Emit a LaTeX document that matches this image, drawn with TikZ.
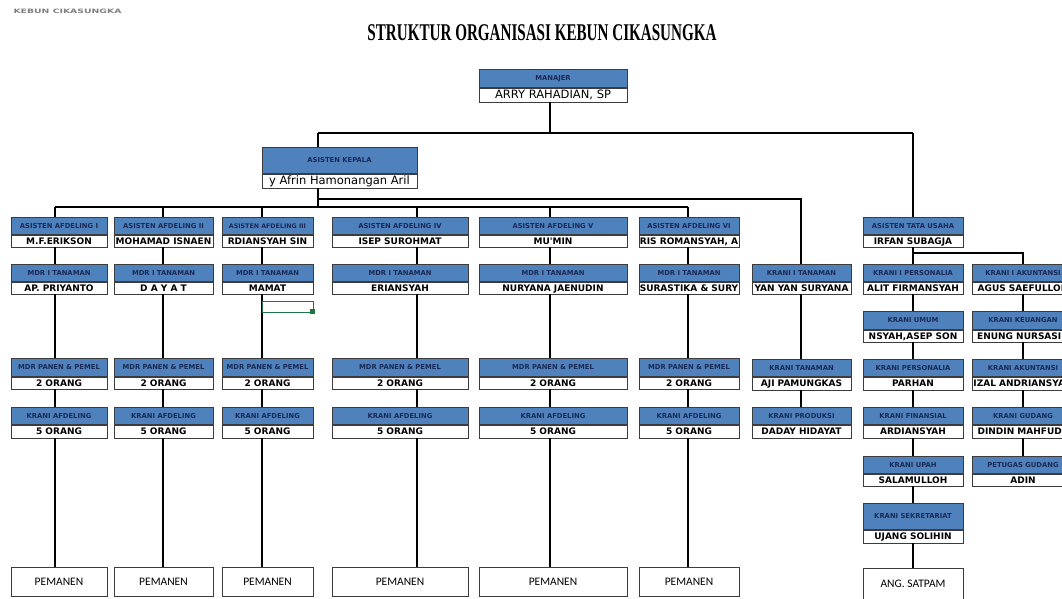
\documentclass[tikz,border=0pt]{standalone}
\usepackage{fontspec}
\newfontfamily\dejavu{DejaVu Sans}
\newfontfamily\carlito{Carlito}
\newfontfamily\judulfont{Liberation Serif}
\usetikzlibrary{calc}

\definecolor{biruexcel}{HTML}{4F81BD}
\definecolor{navy}{HTML}{1B2A55}
\definecolor{garis}{HTML}{3C3C3C}
\definecolor{hijauexcel}{HTML}{217346}

\tikzset{
  kepalakotak/.style={draw=garis, line width=0.7pt, fill=biruexcel, inner sep=0pt,
    text=navy, text height=4.8pt, text depth=0pt,
    font=\dejavu\bfseries\fontsize{6.8}{6.8}\selectfont},
  isikotak/.style={draw=garis, line width=0.7pt, fill=white, inner sep=0pt,
    text=black, text height=6.6pt, text depth=0.6pt,
    font=\dejavu\bfseries\fontsize{9}{9}\selectfont},
  isibesar/.style={isikotak, text height=8pt, text depth=2pt,
    font=\dejavu\fontsize{11.5}{11.5}\selectfont},
  kotakputih/.style={draw=garis, line width=0.7pt, fill=white, inner sep=0pt,
    font=\carlito\fontsize{11.5}{11.5}\selectfont},
  hubung/.style={line width=1.1pt, black},
}

% #2 nama, #3 x tengah, #4 lebar, #5 y atas, #6 tinggi kepala, #7 tinggi isi
\newcommand{\jabatan}[9][isikotak]{%
  \node[kepalakotak, minimum width=#4pt, minimum height=#6pt, anchor=north] (#2-h) at (#3,#5) {#8};
  \node[#1, minimum width=#4pt, minimum height=#7pt, anchor=north] (#2) at (#2-h.south) {#9};
}

\begin{document}
\begin{tikzpicture}[x=1pt, y=-1pt]
    \useasboundingbox (0,0) rectangle (1062,598);
    \fill[white] (0,0) rectangle (1062,598);
    \clip (0,0) rectangle (1062,598);

    % judul
    \node[text=gray, font=\dejavu\bfseries\fontsize{6}{6}\selectfont, anchor=west] (kecil) at (10,11)
      {\scalebox{1.55}[1]{KEBUN CIKASUNGKA}};
    \node[font=\judulfont\bfseries\fontsize{24}{24}\selectfont] (judul) at (542,33)
      {\scalebox{0.63}[1]{STRUKTUR ORGANISASI KEBUN CIKASUNGKA}};

    % garis kolom
    \coordinate (c1) at (55,0);
    \coordinate (c2) at (163,0);
    \coordinate (c3) at (262,0);
    \coordinate (c4) at (417,0);
    \coordinate (c5) at (550,0);
    \coordinate (c6) at (688,0);
    \coordinate (c7) at (801,0);
    \coordinate (c8) at (913,0);
    \coordinate (c9) at (1023,0);

    % pimpinan
    \jabatan[isibesar]{manajer}{553}{148}{69}{18}{14}{MANAJER}{ARRY RAHADIAN, SP}
    \jabatan[isibesar]{kepala}{339.5}{155}{147}{26}{14}{ASISTEN KEPALA}{y Afrin Hamonangan Aril}

    % asisten afdeling
    \jabatan{as1}{59}{96}{217}{17}{12}{ASISTEN AFDELING I}{M.F.ERIKSON}
    \jabatan{as2}{163.5}{99}{217}{17}{12}{ASISTEN AFDELING II}{MOHAMAD ISNAEN}
    \jabatan{as3}{267.5}{91}{217}{17}{12}{\fontsize{6.3}{6.3}\selectfont ASISTEN AFDELING III}{RDIANSYAH SIN}
    \jabatan{as4}{400}{136}{217}{17}{12}{ASISTEN AFDELING IV}{ISEP SUROHMAT}
    \jabatan{as5}{553}{148}{217}{17}{12}{ASISTEN AFDELING V}{MU'MIN}
    \jabatan{as6}{689}{100}{217}{17}{12}{ASISTEN AFDELING VI}{RIS ROMANSYAH, A}

    % mandor tanaman
    \jabatan{mt1}{59}{96}{264}{17}{12}{MDR I TANAMAN}{AP. PRIYANTO}
    \jabatan{mt2}{163.5}{99}{264}{17}{12}{MDR I TANAMAN}{D A Y A T}
    \jabatan{mt3}{267.5}{91}{264}{17}{12}{MDR I TANAMAN}{MAMAT}
    \jabatan{mt4}{400}{136}{264}{17}{12}{MDR I TANAMAN}{ERIANSYAH}
    \jabatan{mt5}{553}{148}{264}{17}{12}{MDR I TANAMAN}{NURYANA JAENUDIN}
    \jabatan{mt6}{689}{100}{264}{17}{12}{MDR I TANAMAN}{SURASTIKA \& SURY}

    % mandor panen
    \jabatan{mp1}{59}{96}{358}{18}{12}{MDR PANEN \& PEMEL}{2 ORANG}
    \jabatan{mp2}{163.5}{99}{358}{18}{12}{MDR PANEN \& PEMEL}{2 ORANG}
    \jabatan{mp3}{267.5}{91}{358}{18}{12}{MDR PANEN \& PEMEL}{2 ORANG}
    \jabatan{mp4}{400}{136}{358}{18}{12}{MDR PANEN \& PEMEL}{2 ORANG}
    \jabatan{mp5}{553}{148}{358}{18}{12}{MDR PANEN \& PEMEL}{2 ORANG}
    \jabatan{mp6}{689}{100}{358}{18}{12}{MDR PANEN \& PEMEL}{2 ORANG}

    % krani afdeling
    \jabatan{ka1}{59}{96}{407}{17}{13}{KRANI AFDELING}{5 ORANG}
    \jabatan{ka2}{163.5}{99}{407}{17}{13}{KRANI AFDELING}{5 ORANG}
    \jabatan{ka3}{267.5}{91}{407}{17}{13}{KRANI AFDELING}{5 ORANG}
    \jabatan{ka4}{400}{136}{407}{17}{13}{KRANI AFDELING}{5 ORANG}
    \jabatan{ka5}{553}{148}{407}{17}{13}{KRANI AFDELING}{5 ORANG}
    \jabatan{ka6}{689}{100}{407}{17}{13}{KRANI AFDELING}{5 ORANG}

    % pemanen
    \node[kotakputih, minimum width=96pt, minimum height=29pt, anchor=north] (pm1) at (59,567) {PEMANEN};
    \node[kotakputih, minimum width=99pt, minimum height=29pt, anchor=north] (pm2) at (163.5,567) {PEMANEN};
    \node[kotakputih, minimum width=91pt, minimum height=29pt, anchor=north] (pm3) at (267.5,567) {PEMANEN};
    \node[kotakputih, minimum width=136pt, minimum height=29pt, anchor=north] (pm4) at (400,567) {PEMANEN};
    \node[kotakputih, minimum width=148pt, minimum height=29pt, anchor=north] (pm5) at (553,567) {PEMANEN};
    \node[kotakputih, minimum width=100pt, minimum height=29pt, anchor=north] (pm6) at (689,567) {PEMANEN};

    % krani tanaman
    \jabatan{kt1}{801.5}{99}{264}{17}{12}{KRANI I TANAMAN}{YAN YAN SURYANA}
    \jabatan{kt2}{801.5}{99}{359}{17}{13}{KRANI TANAMAN}{AJI PAMUNGKAS}
    \jabatan{kprod}{801.5}{99}{407}{17}{13}{KRANI PRODUKSI}{DADAY HIDAYAT}

    % tata usaha
    \jabatan{tu}{913}{100}{217}{17}{12}{ASISTEN TATA USAHA}{IRFAN SUBAGJA}
    \jabatan{kper1}{913}{100}{264}{17}{12}{KRANI I PERSONALIA}{ALIT FIRMANSYAH}
    \jabatan{kum}{913}{100}{311}{18}{12}{KRANI UMUM}{NSYAH,ASEP SON}
    \jabatan{kper2}{913}{100}{359}{17}{13}{KRANI  PERSONALIA}{PARHAN}
    \jabatan{kfin}{913}{100}{407}{17}{13}{KRANI FINANSIAL}{ARDIANSYAH}
    \jabatan{kup}{913}{100}{456}{17}{12}{KRANI UPAH}{SALAMULLOH}
    \jabatan{ksek}{913}{100}{503}{26}{13}{KRANI SEKRETARIAT}{UJANG SOLIHIN}
    \node[kotakputih, minimum width=100pt, minimum height=31pt, anchor=north] (satpam) at (913,568) {ANG. SATPAM};

    % keuangan
    \jabatan{kak1}{1023}{102}{264}{17}{12}{KRANI I AKUNTANSI}{AGUS SAEFULLOH}
    \jabatan{kkeu}{1023}{102}{311}{18}{12}{KRANI KEUANGAN}{ENUNG NURSASIH}
    \jabatan{kak2}{1023}{102}{359}{17}{13}{KRANI AKUNTANSI}{IZAL ANDRIANSYAH}
    \jabatan{kgud}{1023}{102}{407}{17}{13}{KRANI GUDANG}{DINDIN MAHFUDZ}
    \jabatan{pgud}{1023}{102}{456}{17}{12}{PETUGAS GUDANG}{ADIN}

    % garis manajer
    \coordinate (t1) at (318,133);
    \coordinate (t2) at (913,133);
    \draw[hubung] (manajer.south -| c5) -- (t1 -| c5);
    \draw[hubung] (t1) -- (t2);
    \draw[hubung] (t1) -- (kepala-h.north -| t1);
    \draw[hubung] (t2) -- (tu-h.north);

    % garis asisten kepala
    \coordinate (k1) at (318,199);
    \coordinate (k2) at (318,207);
    \draw[hubung] (kepala.south -| k1) -- (k2);
    \draw[hubung] (k1) -- (k1 -| c7) -- (kt1-h.north -| c7);
    \draw[hubung] (k2 -| c1) -- (k2 -| c6);
    \foreach \i in {1,...,6} {
      \draw[hubung] (k2 -| c\i) -- (as\i-h.north -| c\i);
      \draw[hubung] (as\i.south -| c\i) -- (mt\i-h.north -| c\i);
      \draw[hubung] (mt\i.south -| c\i) -- (mp\i-h.north -| c\i);
      \draw[hubung] (mp\i.south -| c\i) -- (ka\i-h.north -| c\i);
      \draw[hubung] (ka\i.south -| c\i) -- (pm\i.north -| c\i);
    }
    \draw[hubung] (kt1.south -| c7) -- (kt2-h.north -| c7);
    \draw[hubung] (kt2.south -| c7) -- (kprod-h.north -| c7);

    % garis tata usaha
    \coordinate (u1) at (913,253);
    \draw[hubung] (tu.south) -- (kper1-h.north);
    \draw[hubung] (u1) -- (u1 -| c9) -- (kak1-h.north);
    \draw[hubung] (kper1.south) -- (kum-h.north);
    \draw[hubung] (kum.south) -- (kper2-h.north);
    \draw[hubung] (kper2.south) -- (kfin-h.north);
    \draw[hubung] (kfin.south) -- (kup-h.north);
    \draw[hubung] (kup.south) -- (ksek-h.north);
    \draw[hubung] (ksek.south) -- (satpam.north);
    \draw[hubung] (kak1.south) -- (kkeu-h.north);
    \draw[hubung] (kkeu.south) -- (kak2-h.north);
    \draw[hubung] (kak2.south) -- (kgud-h.north);
    \draw[hubung] (kgud.south) -- (pgud-h.north);

    % seleksi sel
    \draw[hijauexcel, line width=0.9pt] (262,301) rectangle (313,312);
    \fill[hijauexcel] (310,309) rectangle (315,314);
\end{tikzpicture}
\end{document}
